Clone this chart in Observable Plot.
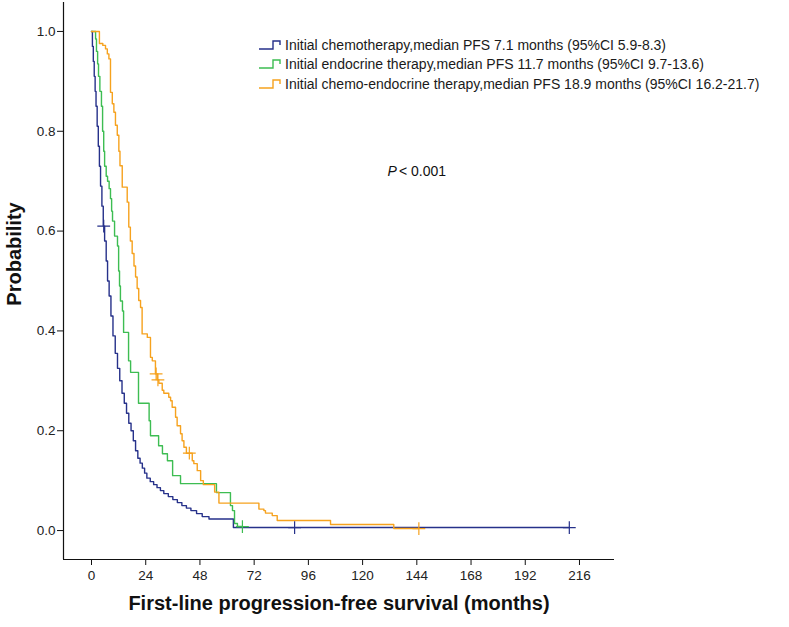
<!DOCTYPE html>
<html>
<head>
<meta charset="utf-8">
<script src="https://cdn.jsdelivr.net/npm/d3@7"></script>
<script src="https://cdn.jsdelivr.net/npm/@observablehq/plot@0.6"></script>
<style>
  html, body { margin: 0; padding: 0; background: #fff; }
  #wrap { position: relative; width: 789px; height: 627px; font-family: "Liberation Sans", Arial, sans-serif; }
  #legend { position: absolute; left: 258px; top: 35px; font-size: 14px; color: #1a1a1a; }
  #legend .row { display: flex; align-items: center; height: 19.5px; white-space: nowrap; }
  #legend svg { margin-right: 2px; }
</style>
</head>
<body>
<div id="wrap"><div id="legend"></div></div>
<script>
// ---- data ----
const groups = [
  "Initial chemotherapy,median PFS 7.1 months (95%CI 5.9-8.3)",
  "Initial endocrine therapy,median PFS 11.7 months (95%CI 9.7-13.6)",
  "Initial chemo-endocrine therapy,median PFS 18.9 months (95%CI 16.2-21.7)"
];
const colors = ["#26318a", "#3dbd52", "#f6a21e"];

const chemoT = [0,0.4,0.8,1.2,1.6,2.0,2.5,3.0,3.5,4.0,4.6,5.2,5.8,6.5,7.1,7.8,8.6,9.5,10.5,11.5,12.5,13.5,14.5,15.5,16.5,17.5,18.5,19.5,20.5,21.5,22.5,23.5,24.5,26.0,27.5,29.0,30.5,32.0,34.0,36.0,38.0,40.0,42.0,44.0,46.5,49.0,52.0,62.8,211.5];
const chemoS = [1,0.97,0.94,0.91,0.88,0.85,0.81,0.77,0.73,0.69,0.65,0.61,0.58,0.54,0.50,0.47,0.43,0.39,0.355,0.325,0.30,0.275,0.255,0.235,0.215,0.20,0.18,0.16,0.145,0.135,0.125,0.115,0.105,0.098,0.092,0.086,0.08,0.074,0.068,0.062,0.056,0.05,0.045,0.04,0.034,0.028,0.023,0.006,0.006];

const endoT = [0,1.8,2.2,2.7,3.1,3.7,4.4,4.9,5.4,5.8,6.5,7.1,7.8,8.4,8.9,9.3,10.2,11.5,12.0,12.4,12.8,13.7,14.2,16.4,17.3,20.8,25.5,26.1,29.7,31.4,33.6,35.9,39.4,55.3,61.5,62.4,63.3,64.6,66.8];
const endoS = [1,0.985,0.96,0.935,0.91,0.88,0.85,0.80,0.76,0.73,0.71,0.70,0.685,0.665,0.64,0.62,0.59,0.57,0.52,0.49,0.46,0.44,0.397,0.34,0.317,0.255,0.22,0.19,0.17,0.154,0.14,0.11,0.094,0.076,0.05,0.04,0.014,0.008,0.008];

const comboT = [0,3.5,5.0,6.2,7.0,7.7,8.4,9.2,9.9,10.6,11.4,12.1,12.6,13.6,15.8,16.5,17.2,18.0,18.8,19.5,20.2,20.9,21.7,22.4,24.7,26.1,26.9,28.3,29.1,29.8,31.3,32.0,34.2,35.0,35.7,37.2,37.9,39.4,40.1,40.9,42.0,44.6,45.3,46.8,48.3,49.5,54.5,56.4,74.1,76.3,77.0,80.0,82.2,105.8,133.8,144.9];
const comboS = [1,0.976,0.972,0.965,0.955,0.945,0.878,0.855,0.838,0.812,0.792,0.76,0.731,0.688,0.658,0.608,0.58,0.555,0.53,0.508,0.485,0.461,0.447,0.394,0.387,0.347,0.34,0.314,0.302,0.295,0.281,0.275,0.267,0.26,0.247,0.227,0.21,0.194,0.18,0.167,0.155,0.14,0.134,0.12,0.10,0.092,0.077,0.055,0.043,0.040,0.035,0.030,0.020,0.012,0.004,0.004];

const chemoCensorT = [5.4, 89.9, 211.5];
const chemoCensorS = [0.61, 0.006, 0.006];
const endoCensorT = [66.8];
const endoCensorS = [0.008];
const comboCensorT = [28.6, 29.4, 43.3, 144.9];
const comboCensorS = [0.314, 0.302, 0.155, 0.004];

const xTicks = [0,24,48,72,96,120,144,168,192,216];
const yTicks = [0,0.2,0.4,0.6,0.8,1.0];
const xDomain = [-12.4, 231.5];
const yDomain = [-0.058, 1.058];
const xTitle = "First-line progression-free survival (months)";
const yTitle = "Probability";
const pLabel = ["P", "< 0.001"];
const pPos = {t: 131, s: 0.72};

// ---- build tables ----
const curves = [];
[[chemoT, chemoS], [endoT, endoS], [comboT, comboS]].forEach(([T, S], i) => {
  T.forEach((t, j) => curves.push({g: groups[i], t, s: S[j]}));
});
const censors = [];
[[chemoCensorT, chemoCensorS], [endoCensorT, endoCensorS], [comboCensorT, comboCensorS]].forEach(([T, S], i) => {
  T.forEach((t, j) => censors.push({g: groups[i], t, s: S[j]}));
});

const font = "Liberation Sans, Arial, sans-serif";
const chart = Plot.plot({
  width: 789,
  height: 627,
  marginLeft: 63,
  marginRight: 175,
  marginTop: 2,
  marginBottom: 68,
  style: {fontFamily: font, background: "#fff", overflow: "visible"},
  x: {domain: xDomain, axis: null},
  y: {domain: yDomain, axis: null},
  color: {domain: groups, range: colors},
  marks: [
    Plot.ruleX([xDomain[0]], {y1: yDomain[0], y2: yDomain[1], stroke: "#111", strokeWidth: 1.2}),
    Plot.ruleY([yDomain[0]], {x1: xDomain[0], x2: xDomain[1], stroke: "#111", strokeWidth: 1.2}),
    Plot.axisX({ticks: xTicks, tickSize: 6, tickPadding: 5, fontSize: 13.5, label: null, color: "#222", stroke: "#111", anchor: "bottom", tickFormat: d => String(d)}),
    Plot.axisY({ticks: yTicks, tickSize: 6, tickPadding: 2, fontSize: 13.5, label: null, color: "#222", stroke: "#111", anchor: "left", tickFormat: d3.format(".1f")}),
    Plot.line(curves, {x: "t", y: "s", z: "g", stroke: "g", curve: "step-after", strokeWidth: 1.4}),
    Plot.dot(censors, {x: "t", y: "s", stroke: "g", symbol: "plus", r: 4.2, strokeWidth: 1.2}),
    Plot.text([yTitle], {frameAnchor: "left", textAnchor: "middle", dx: -49, dy: -27, rotate: -90, fontSize: 20, fontWeight: "bold", fill: "#111"}),
    Plot.text([xTitle], {frameAnchor: "bottom", dy: 50, fontSize: 20, fontWeight: "bold", fill: "#111"}),
    Plot.text([pLabel[0]], {x: () => pPos.t, y: () => pPos.s, textAnchor: "start", fontStyle: "italic", fontSize: 14, fill: "#111"}),
    Plot.text([pLabel[1]], {x: () => pPos.t, y: () => pPos.s, dx: 11.5, textAnchor: "start", fontSize: 14, fill: "#111"})
  ]
});
const wrap = document.getElementById("wrap");
wrap.insertBefore(chart, wrap.firstChild);

// legend
const legend = document.getElementById("legend");
groups.forEach((g, i) => {
  const row = document.createElement("div");
  row.className = "row";
  row.innerHTML = `<svg width="25" height="12"><path d="M1,10H15V2H22V6" fill="none" stroke="${colors[i]}" stroke-width="1.4"/></svg><span>${g}</span>`;
  legend.appendChild(row);
});
</script>
</body>
</html>
